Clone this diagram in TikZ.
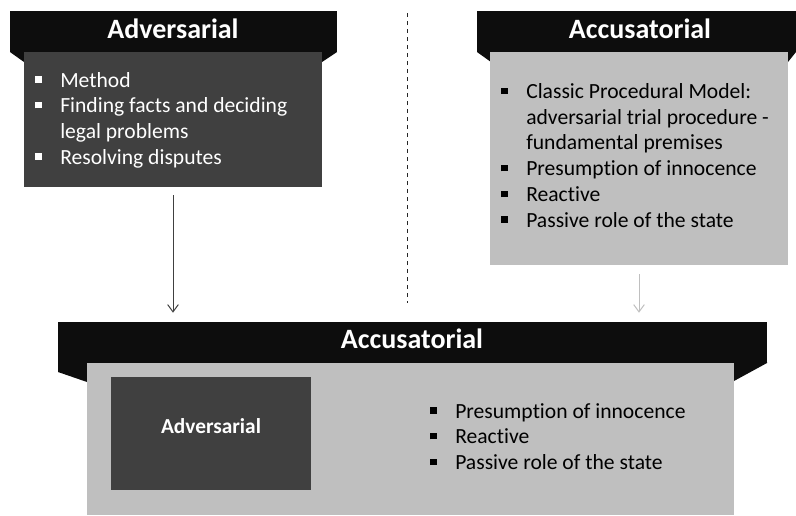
\documentclass[tikz,border=0pt]{standalone}
\usepackage{fontspec}
\setmainfont{Carlito}[Ligatures={NoCommon,NoRare,NoContextual}]
\usetikzlibrary{fit,arrows.meta}
\definecolor{hdr}{HTML}{0D0D0D}
\definecolor{darkfill}{HTML}{404040}
\definecolor{lightfill}{HTML}{BFBFBF}
\definecolor{sepcol}{HTML}{262626}
\tikzset{
  hdrbar/.style={fill=hdr, draw=none, inner sep=0pt},
  darkbox/.style={fill=darkfill, draw=none, inner sep=0pt},
  lightbox/.style={fill=lightfill, draw=none, inner sep=0pt},
  ttl/.style={anchor=base, text=white, inner sep=0pt, font=\fontsize{21}{25}\selectfont\bfseries},
  lst/.style={anchor=base west, inner sep=0pt, font=\fontsize{16.2}{19.3}\selectfont},
  arrL/.style={draw=darkfill, line width=0.75pt, -{Straight Barb[length=5.5pt,width=8pt]}, shorten <=6pt, shorten >=6.75pt},
  arrR/.style={draw=lightfill, line width=0.75pt, -{Straight Barb[length=5.5pt,width=8pt]}, shorten <=6.75pt, shorten >=6.75pt},
  sepline/.style={draw=sepcol, line width=0.75pt, dash pattern=on 3pt off 3pt},
}
\newcommand\bul{\makebox[18.75pt][l]{\raisebox{3.2pt}{\rule{5pt}{5pt}}}}
\newcommand\ind{\hspace*{18.75pt}}
\newcommand\blist[1]{\vtop{\baselineskip=19.3pt #1}}
\begin{document}
\begin{tikzpicture}[x=0.75pt, y=-0.75pt]
\useasboundingbox (0,0) rectangle (796,515);

% ---- top left: Adversarial
\node[hdrbar, fit={(10,11) (337,52)}] (h1) {};
\fill[hdr] (10,52) -- (24,62) -- (322,62) -- (337,52) -- cycle;
\node[darkbox, fit={(24,52) (322,187)}] (b1) {};
\node[ttl] (t1) at (173,38) {Adversarial};
\node[lst, text=white] (l1) at (35,87) {\blist{%
  \hbox{\bul Method}%
  \hbox{\bul Finding facts and deciding}%
  \hbox{\ind legal problems}%
  \hbox{\bul Resolving disputes}}};

% ---- top right: Accusatorial
\node[hdrbar, fit={(477,11) (796,52)}] (h2) {};
\fill[hdr] (477,52) -- (491,62) -- (788,62) -- (796,52) -- cycle;
\node[lightbox, fit={(490,52) (788,265)}] (b2) {};
\node[ttl] (t2) at (640,38) {Accusatorial};
\node[lst, text=black] (l2) at (501,98.5) {\blist{%
  \hbox{\bul Classic Procedural Model:}%
  \hbox{\ind adversarial trial procedure -}%
  \hbox{\ind fundamental premises}%
  \hbox{\bul Presumption of innocence}%
  \hbox{\bul Reactive}%
  \hbox{\bul Passive role of the state}}};

% ---- bottom: Accusatorial containing Adversarial
\node[hdrbar, fit={(58,322) (767,363)}] (h3) {};
\fill[hdr] (58,362) -- (58,372) -- (87,382) -- (734,381) -- (767,363) -- (767,362) -- cycle;
\node[lightbox, fit={(87,363) (734,515)}] (b3) {};
\node[ttl] (t3) at (412,348) {Accusatorial};
\node[darkbox, fit={(111,377) (311,490)}, text=white, font=\fontsize{16}{19.3}\selectfont\bfseries] (b3a) {Adversarial};
\node[lst, text=black] (l3) at (430,418) {\blist{%
  \hbox{\bul Presumption of innocence}%
  \hbox{\bul Reactive}%
  \hbox{\bul Passive role of the state}}};

% ---- connectors
\draw[arrL] (b1.south) -- (b1.south |- h3.north);
\draw[arrR] (b2.south) -- (b2.south |- h3.north);
\coordinate (sepTop) at (407,13);
\coordinate (sepBot) at (407,303);
\draw[sepline] (sepTop) -- (sepBot);
\end{tikzpicture}
\end{document}
